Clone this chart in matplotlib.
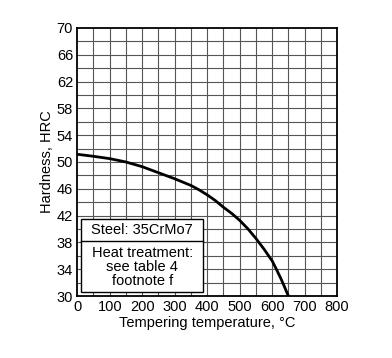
import matplotlib
matplotlib.use("Agg")
import matplotlib.pyplot as plt
from matplotlib.patches import Rectangle
import numpy as np

plt.rcParams['font.family'] = ['Liberation Sans', 'DejaVu Sans']

# tempering curve
temp = [0, 50, 100, 150, 200, 250, 300, 325, 350, 375, 400, 425, 450, 475, 500,
        525, 550, 575, 600, 612, 627, 640, 650]
hrc = [51.15, 50.85, 50.5, 50.0, 49.3, 48.4, 47.5, 47.0, 46.5, 45.85, 45.1, 44.25,
       43.25, 42.35, 41.3, 40.05, 38.6, 37.0, 35.25, 34.1, 32.6, 31.15, 30.0]

x_ticks = list(range(0, 801, 100))
y_ticks = list(range(30, 71, 4))

steel_text = "Steel: 35CrMo7"
treat_text = "Heat treatment:\nsee table 4\nfootnote f"

fig = plt.figure(figsize=(3.92, 3.58), dpi=100)
ax = fig.add_axes([0.197, 0.173, 0.663, 0.749])

ax.set_xlim(0, 800)
ax.set_ylim(30, 70)

# grid
for x in np.arange(50, 800, 50):
    ax.axvline(x, color='#555555', lw=0.8, zorder=1)
for y in np.arange(32, 70, 2):
    ax.axhline(y, color='#555555', lw=0.8, zorder=1)

ax.plot(temp, hrc, color='black', lw=2.0, zorder=3, solid_capstyle='butt',
        solid_joinstyle='round')

# info box
ax.add_patch(Rectangle((13, 30.6), 374, 10.85, facecolor='white',
                       edgecolor='black', lw=1.0, zorder=4))
ax.plot([13, 387], [38.25, 38.25], color='black', lw=1.0, zorder=5)
ax.text(200, 39.85, steel_text, ha='center', va='center', fontsize=10.5, zorder=6)
ax.text(200, 34.4, treat_text, ha='center', va='center', fontsize=10.5,
        linespacing=1.0, zorder=6)

ax.set_xticks(x_ticks)
ax.set_yticks(y_ticks)
ax.tick_params(length=0, labelsize=10.5, pad=3)
for s in ax.spines.values():
    s.set_linewidth(1.3)
    s.set_zorder(7)

ax.set_xlabel("Tempering temperature, °C", fontsize=10.5, labelpad=1)
ax.set_ylabel("Hardness, HRC", fontsize=10.5, labelpad=2)

fig.savefig("out.png", dpi=100)
